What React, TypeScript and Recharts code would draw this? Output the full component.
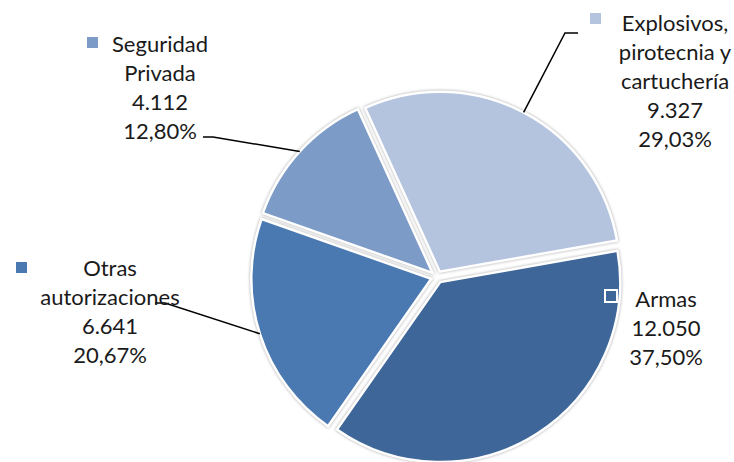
import React from 'react';
import { PieChart, Pie, Cell } from 'recharts';

// data
const categories = ['Explosivos, pirotecnia y cartuchería', 'Armas', 'Otras autorizaciones', 'Seguridad Privada'];
const values = [9327, 12050, 6641, 4112];
const valueLabels = ['9.327', '12.050', '6.641', '4.112'];
const percentLabels = ['29,03%', '37,50%', '20,67%', '12,80%'];
const nameLines = [['Explosivos,', 'pirotecnia y', 'cartuchería'], ['Armas'], ['Otras', 'autorizaciones'], ['Seguridad', 'Privada']];

const COLORS = ['#B4C4DF', '#3E6698', '#4A78B0', '#7D9BC7'];

const W = 734;
const H = 462;
const CX = 437;
const CY = 277;
const R = 180;
const EXPLODE = 6;
const START = 114.5;
const FONT = 'Lato, "Open Sans", sans-serif';
const LINE_H = 29;

// label placement (text centre x, first line centre y, legend key, leader elbow)
const LABEL_LAYOUT = [
  { x: 675, y: 22, key: [590, 13, 11, 11], elbow: [[565, 33], [578, 33]] },
  { x: 666, y: 298, key: [605, 290, 12, 12], elbow: null },
  { x: 110, y: 267, key: [16, 262, 11, 11], elbow: [[165, 303], [155, 303]] },
  { x: 160, y: 43, key: [87, 37, 11, 11], elbow: [[213, 137], [203, 137]] },
];

const tableData = categories.map((name, i) => ({ name, value: values[i] }));
const total = values.reduce((a, b) => a + b, 0);
const RAD = Math.PI / 180;

const midAngles = values.map((v, i) => {
  const before = values.slice(0, i).reduce((a, b) => a + b, 0);
  return START - ((before + v / 2) / total) * 360;
});

const renderLabel = (props: any) => {
  const i = props.index;
  const lay = LABEL_LAYOUT[i];
  const mid = props.midAngle;
  const sx = CX + (R + EXPLODE) * Math.cos(-mid * RAD);
  const sy = CY + (R + EXPLODE) * Math.sin(-mid * RAD);
  const lines = [...nameLines[i], valueLabels[i], percentLabels[i]];
  const [kx, ky, kw, kh] = lay.key;
  const isArmas = i === 1;
  return (
    <g key={`lab-${i}`}>
      {lay.elbow && (
        <polyline
          points={[[sx, sy], ...lay.elbow].map((p) => p.join(',')).join(' ')}
          fill="none"
          stroke="#000"
          strokeWidth={1.5}
        />
      )}
      <rect
        x={kx}
        y={ky}
        width={kw}
        height={kh}
        fill={COLORS[i]}
        stroke={isArmas ? '#fff' : 'none'}
        strokeWidth={isArmas ? 2 : 0}
      />
      {lines.map((t, j) => (
        <text
          key={j}
          x={lay.x}
          y={lay.y + j * LINE_H}
          textAnchor="middle"
          dominantBaseline="central"
          fontFamily={FONT}
          fontSize={22}
          fill="#1a1a1a"
        >
          {t}
        </text>
      ))}
    </g>
  );
};

export default function App() {
  return (
    <div style={{ position: 'absolute', left: 0, top: 0, width: W, height: H, background: '#fff' }}>
      <PieChart width={W} height={H} margin={{ top: 0, right: 0, bottom: 0, left: 0 }}>
        {values.map((_, i) => (
          <Pie
            key={i}
            data={tableData}
            dataKey="value"
            nameKey="name"
            cx={CX + EXPLODE * Math.cos(-midAngles[i] * RAD)}
            cy={CY + EXPLODE * Math.sin(-midAngles[i] * RAD)}
            outerRadius={R}
            startAngle={START}
            endAngle={START - 360}
            isAnimationActive={false}
            label={i === 0 ? renderLabel : false}
            labelLine={false}
          >
            {tableData.map((_, j) => (
              <Cell
                key={j}
                fill={j === i ? COLORS[j] : 'transparent'}
                stroke={j === i ? '#fff' : 'none'}
                strokeWidth={j === i ? 2.5 : 0}
                style={j === i ? { filter: 'drop-shadow(0px 0px 1.5px rgba(0,0,0,0.35))' } : undefined}
              />
            ))}
          </Pie>
        ))}
      </PieChart>
    </div>
  );
}
